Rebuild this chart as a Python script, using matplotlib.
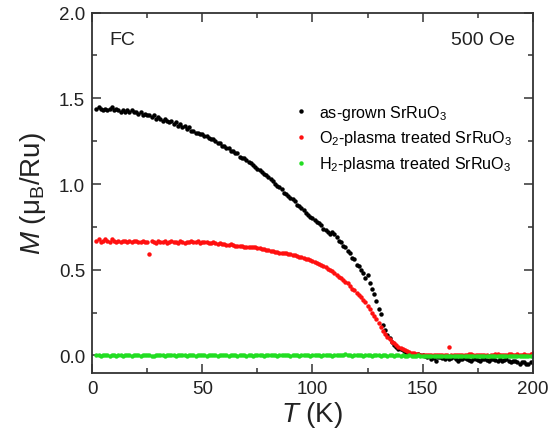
import numpy as np
import matplotlib
matplotlib.use("Agg")
from matplotlib import pyplot as plt
from matplotlib.ticker import MultipleLocator, FormatStrFormatter

plt.rcParams['font.family'] = ['Liberation Sans', 'DejaVu Sans']
plt.rcParams['mathtext.fontset'] = 'custom'
plt.rcParams['mathtext.rm'] = 'Liberation Sans'
plt.rcParams['mathtext.it'] = 'Liberation Sans:italic'

# temperature grid (K), 2..200
temp = list(range(2, 201))

# as-grown SrRuO3
m_grown = [1.44, 1.45, 1.44, 1.43, 1.44, 1.43, 1.44, 1.45, 1.43, 1.44,
           1.43, 1.42, 1.43, 1.42, 1.43, 1.42, 1.43, 1.42, 1.42, 1.41,
           1.42, 1.40, 1.41, 1.40, 1.40, 1.39, 1.40, 1.38, 1.39, 1.38,
           1.37, 1.38, 1.37, 1.36, 1.37, 1.35, 1.36, 1.34, 1.35, 1.33,
           1.34, 1.32, 1.33, 1.31, 1.31, 1.30, 1.30, 1.29, 1.29, 1.28,
           1.28, 1.27, 1.26, 1.26, 1.25, 1.24, 1.24, 1.22, 1.22, 1.21,
           1.21, 1.19, 1.19, 1.18, 1.18, 1.16, 1.15, 1.15, 1.14, 1.13,
           1.12, 1.11, 1.10, 1.09, 1.08, 1.07, 1.06, 1.05, 1.04, 1.03,
           1.02, 1.00, 0.99, 0.98, 0.97, 0.95, 0.94, 0.93, 0.92, 0.91,
           0.90, 0.88, 0.87, 0.86, 0.85, 0.83, 0.82, 0.81, 0.80, 0.79,
           0.78, 0.77, 0.76, 0.74, 0.73, 0.72, 0.71, 0.72, 0.71, 0.69,
           0.67, 0.66, 0.64, 0.63, 0.61, 0.60, 0.57, 0.56, 0.53, 0.52,
           0.50, 0.48, 0.45, 0.47, 0.42, 0.39, 0.36, 0.32, 0.27, 0.24,
           0.18, 0.15, 0.12, 0.10, 0.08, 0.06, 0.05, 0.04, 0.035, 0.03,
           0.02, 0.02, 0.015, 0.01, 0.01, 0.005, 0.01, 0.0, 0.0, -0.005,
           -0.01, -0.005, -0.02, -0.015, -0.03, -0.01, -0.01, -0.015, -0.02, -0.01,
           -0.02, -0.015, -0.01, -0.02, -0.03, -0.02, -0.02, -0.015, -0.02, -0.025,
           -0.03, -0.02, -0.02, -0.025, -0.03, -0.02, -0.02, -0.025, -0.03, -0.02,
           -0.02, -0.025, -0.03, -0.02, -0.03, -0.025, -0.02, -0.03, -0.04, -0.03,
           -0.03, -0.04, -0.05, -0.04, -0.04, -0.05, -0.05, -0.04, -0.04]

# O2-plasma treated SrRuO3
m_o2 = [0.67, 0.68, 0.66, 0.67, 0.68, 0.67, 0.66, 0.68, 0.67, 0.66,
        0.67, 0.66, 0.67, 0.665, 0.66, 0.67, 0.66, 0.665, 0.67, 0.66,
        0.66, 0.665, 0.66, 0.66, 0.59, 0.665, 0.66, 0.655, 0.665, 0.66,
        0.66, 0.665, 0.655, 0.66, 0.665, 0.66, 0.66, 0.655, 0.665, 0.66,
        0.655, 0.66, 0.66, 0.665, 0.66, 0.66, 0.665, 0.655, 0.66, 0.66,
        0.66, 0.655, 0.655, 0.66, 0.655, 0.65, 0.655, 0.65, 0.65, 0.645,
        0.645, 0.65, 0.645, 0.64, 0.64, 0.64, 0.64, 0.635, 0.635, 0.63,
        0.63, 0.63, 0.63, 0.625, 0.625, 0.62, 0.62, 0.615, 0.615, 0.61,
        0.61, 0.605, 0.605, 0.60, 0.60, 0.595, 0.595, 0.59, 0.59, 0.585,
        0.585, 0.58, 0.575, 0.575, 0.57, 0.565, 0.56, 0.555, 0.55, 0.545,
        0.54, 0.535, 0.525, 0.52, 0.515, 0.505, 0.50, 0.49, 0.48, 0.47,
        0.46, 0.45, 0.44, 0.43, 0.42, 0.405, 0.39, 0.38, 0.365, 0.355,
        0.34, 0.325, 0.31, 0.29, 0.27, 0.25, 0.23, 0.21, 0.19, 0.165,
        0.14, 0.125, 0.11, 0.095, 0.08, 0.07, 0.06, 0.05, 0.045, 0.035,
        0.03, 0.025, 0.02, 0.015, 0.015, 0.01, 0.01, 0.005, 0.005, 0.005,
        0.005, 0.0, 0.0, 0.005, 0.005, 0.0, 0.0, 0.005, 0.005, 0.0,
        0.05, 0.0, 0.0, 0.005, 0.005, 0.0, 0.0, 0.005, 0.005, 0.01,
        0.01, 0.005, 0.0, 0.005, 0.005, 0.0, 0.0, 0.005, -0.005, 0.005,
        0.005, 0.01, 0.01, 0.005, 0.0, 0.005, 0.005, 0.01, 0.01, 0.005,
        0.005, 0.01, 0.0, 0.005, 0.01, 0.005, 0.005, 0.01, 0.015]

# H2-plasma treated SrRuO3
m_h2 = [0.0, 0.002, -0.002, 0.001, 0.0, 0.003, -0.001, 0.002, 0.0, -0.002,
        0.001, 0.002, -0.001, 0.0, 0.002, 0.001, -0.001, 0.003, 0.0, 0.002,
        -0.002, 0.001, 0.0, 0.002, 0.003, -0.001, -0.006, 0.0, 0.002, 0.001,
        0.0, -0.002, 0.001, 0.003, 0.0, 0.001, -0.001, 0.002, 0.0, 0.001,
        0.003, -0.001, 0.0, 0.002, 0.001, -0.002, 0.0, 0.002, 0.001, 0.0,
        -0.001, 0.002, 0.0, 0.001, 0.003, -0.001, 0.002, 0.0, 0.0, 0.001,
        -0.002, 0.001, 0.0, 0.002, -0.001, 0.001, 0.0, 0.002, -0.002, 0.0,
        0.001, -0.001, 0.0, 0.001, 0.002, 0.0, -0.001, 0.002, 0.001, 0.0,
        0.002, 0.001, -0.001, 0.0, 0.002, 0.001, 0.0, 0.003, -0.001, 0.001,
        0.0, 0.002, -0.001, 0.001, 0.0, 0.002, 0.001, -0.001, 0.0, 0.001,
        0.002, 0.0, -0.001, 0.001, 0.0, 0.002, 0.001, -0.001, 0.0, 0.002,
        0.001, 0.0, 0.002, 0.008, 0.0, 0.001, -0.002, 0.0, 0.001, 0.002,
        0.0, -0.001, 0.001, 0.0, 0.002, -0.001, 0.001, 0.0, 0.002, -0.002,
        0.0, 0.001, -0.001, 0.0, 0.001, -0.002, 0.0, 0.001, -0.001, 0.0,
        -0.002, -0.001, 0.0, -0.002, -0.003, -0.001, 0.0, -0.002, -0.003, -0.001,
        -0.002, -0.003, -0.001, -0.002, -0.003, -0.002, -0.001, -0.003, -0.002, -0.004,
        -0.001, -0.003, -0.002, -0.004, -0.002, -0.003, -0.005, -0.002, -0.003, -0.004,
        -0.003, -0.002, -0.004, -0.003, -0.005, -0.004, -0.003, -0.005, -0.004, -0.003,
        -0.004, -0.003, -0.005, -0.004, -0.003, -0.005, -0.004, -0.003, -0.005, -0.004,
        -0.003, -0.005, -0.004, -0.003, -0.004, -0.005, -0.004, -0.003, -0.004]

fig = plt.figure(figsize=(5.49, 4.39), dpi=100)
ax = fig.add_axes([0.1676, 0.149, 0.803, 0.820])

ax.plot(temp, m_grown, 'o', color='black', markersize=3.2, markeredgewidth=0,
        label='as-grown SrRuO$_3$')
ax.plot(temp, m_o2, 'o', color='#ff1010', markersize=3.2, markeredgewidth=0,
        label='O$_2$-plasma treated SrRuO$_3$')
ax.plot(temp, m_h2, 'o', color='#22dd22', markersize=3.2, markeredgewidth=0,
        label='H$_2$-plasma treated SrRuO$_3$')

ax.set_xlim(0, 200)
ax.set_ylim(-0.1, 2.0)
ax.xaxis.set_major_locator(MultipleLocator(50))
ax.xaxis.set_minor_locator(MultipleLocator(25))
ax.yaxis.set_major_locator(MultipleLocator(0.5))
ax.yaxis.set_minor_locator(MultipleLocator(0.25))
ax.yaxis.set_major_formatter(FormatStrFormatter('%.1f'))
ax.tick_params(which='both', direction='in', top=True, right=True, labelsize=13.5,
               color='#333333', labelcolor='#222222')
ax.tick_params(which='major', length=6.5, width=1.1)
ax.tick_params(which='minor', length=3.5, width=1.1)
ax.tick_params(axis='x', pad=5)
ax.tick_params(axis='y', pad=5)
for s in ax.spines.values():
    s.set_linewidth(1.3)
    s.set_color('#333333')

ax.set_xlabel('$\\it{T}$ (K)', fontsize=20, labelpad=2, color='#222222')
ax.set_ylabel('$\\it{M}$ ($\\mathrm{μ}_{\\mathrm{B}}$/Ru)', fontsize=20, labelpad=8, color='#222222')

ax.text(0.04, 0.926, 'FC', transform=ax.transAxes, fontsize=14, va='center', color='#222222')
ax.text(0.959, 0.926, '500 Oe', transform=ax.transAxes, fontsize=14, va='center', ha='right',
        color='#222222')

ax.legend(loc='upper left', bbox_to_anchor=(0.42, 0.79), frameon=False, fontsize=11.6,
          handletextpad=0.5, labelspacing=0.42, markerscale=1.0, handlelength=1.2)

fig.savefig('out.png', dpi=100)
